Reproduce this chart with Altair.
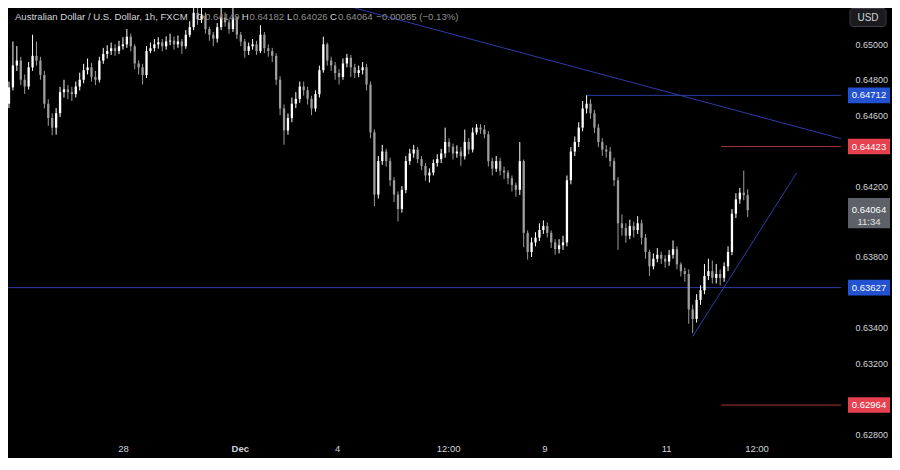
import altair as alt
import pandas as pd
import numpy as np

# ---------------- data (hourly candles) ----------------
opens = [
0.64665, 0.64757, 0.64881, 0.64908, 0.64800, 0.64762, 0.64870, 0.64935, 0.64908, 0.64827,
0.64665, 0.64584, 0.64530, 0.64611, 0.64730, 0.64746, 0.64730, 0.64719, 0.64762, 0.64800,
0.64854, 0.64870, 0.64816, 0.64800, 0.64908, 0.64946, 0.64962, 0.64978, 0.64962, 0.64989,
0.65000, 0.65043, 0.64989, 0.64892, 0.64870, 0.64827, 0.64962, 0.64978, 0.65000, 0.65011,
0.64989, 0.65016, 0.65021, 0.65000, 0.65016, 0.64989, 0.65054, 0.65097, 0.65178, 0.65140,
0.65162, 0.65086, 0.65054, 0.65032, 0.65097, 0.65151, 0.65124, 0.65086, 0.65151, 0.65054,
0.65016, 0.64962, 0.64989, 0.65000, 0.64962, 0.65054, 0.64978, 0.64962, 0.64935, 0.64800,
0.64638, 0.64514, 0.64584, 0.64665, 0.64692, 0.64762, 0.64741, 0.64692, 0.64638, 0.64719,
0.64854, 0.65000, 0.64908, 0.64881, 0.64838, 0.64816, 0.64892, 0.64924, 0.64870, 0.64838,
0.64854, 0.64870, 0.64773, 0.64503, 0.64152, 0.64341, 0.64395, 0.64341, 0.64233, 0.64152,
0.64071, 0.64179, 0.64341, 0.64384, 0.64406, 0.64352, 0.64314, 0.64260, 0.64276, 0.64330,
0.64352, 0.64384, 0.64449, 0.64422, 0.64384, 0.64395, 0.64368, 0.64449, 0.64406, 0.64503,
0.64530, 0.64519, 0.64492, 0.64341, 0.64298, 0.64341, 0.64287, 0.64276, 0.64244, 0.64206,
0.64179, 0.64341, 0.63936, 0.63828, 0.63882, 0.63909, 0.63952, 0.63974, 0.63936, 0.63882,
0.63844, 0.63866, 0.63882, 0.64233, 0.64395, 0.64449, 0.64530, 0.64638, 0.64665, 0.64611,
0.64530, 0.64449, 0.64406, 0.64395, 0.64341, 0.64233, 0.63990, 0.63963, 0.63920, 0.63974,
0.63952, 0.63990, 0.63909, 0.63828, 0.63747, 0.63790, 0.63812, 0.63790, 0.63774, 0.63812,
0.63844, 0.63758, 0.63720, 0.63704, 0.63504, 0.63450, 0.63558, 0.63612, 0.63693, 0.63720,
0.63682, 0.63704, 0.63682, 0.63747, 0.63828, 0.64044, 0.64125, 0.64163, 0.64149,
]

closes = [
0.64757, 0.64881, 0.64908, 0.64800, 0.64762, 0.64870, 0.64935, 0.64908, 0.64827, 0.64665,
0.64584, 0.64530, 0.64611, 0.64730, 0.64746, 0.64730, 0.64719, 0.64762, 0.64800, 0.64854,
0.64870, 0.64816, 0.64800, 0.64908, 0.64946, 0.64962, 0.64978, 0.64962, 0.64989, 0.65000,
0.65043, 0.64989, 0.64892, 0.64870, 0.64827, 0.64962, 0.64978, 0.65000, 0.65011, 0.64989,
0.65016, 0.65021, 0.65000, 0.65016, 0.64989, 0.65054, 0.65097, 0.65178, 0.65140, 0.65162,
0.65086, 0.65054, 0.65032, 0.65097, 0.65151, 0.65124, 0.65086, 0.65151, 0.65054, 0.65016,
0.64962, 0.64989, 0.65000, 0.64962, 0.65054, 0.64978, 0.64962, 0.64935, 0.64800, 0.64638,
0.64514, 0.64584, 0.64665, 0.64692, 0.64762, 0.64741, 0.64692, 0.64638, 0.64719, 0.64854,
0.65000, 0.64908, 0.64881, 0.64838, 0.64816, 0.64892, 0.64924, 0.64870, 0.64838, 0.64854,
0.64870, 0.64773, 0.64503, 0.64152, 0.64341, 0.64395, 0.64341, 0.64233, 0.64152, 0.64071,
0.64179, 0.64341, 0.64384, 0.64406, 0.64352, 0.64314, 0.64260, 0.64276, 0.64330, 0.64352,
0.64384, 0.64449, 0.64422, 0.64384, 0.64395, 0.64368, 0.64449, 0.64406, 0.64503, 0.64530,
0.64519, 0.64492, 0.64341, 0.64298, 0.64341, 0.64287, 0.64276, 0.64244, 0.64206, 0.64179,
0.64341, 0.63936, 0.63828, 0.63882, 0.63909, 0.63952, 0.63974, 0.63936, 0.63882, 0.63844,
0.63866, 0.63882, 0.64233, 0.64395, 0.64449, 0.64530, 0.64638, 0.64665, 0.64611, 0.64530,
0.64449, 0.64406, 0.64395, 0.64341, 0.64233, 0.63990, 0.63963, 0.63920, 0.63974, 0.63952,
0.63990, 0.63909, 0.63828, 0.63747, 0.63790, 0.63812, 0.63790, 0.63774, 0.63812, 0.63844,
0.63758, 0.63720, 0.63704, 0.63504, 0.63450, 0.63558, 0.63612, 0.63693, 0.63720, 0.63682,
0.63704, 0.63682, 0.63747, 0.63828, 0.64044, 0.64125, 0.64163, 0.64149, 0.64064,
]

highs = [
0.64790, 0.65016, 0.64990, 0.64930, 0.64830, 0.64900, 0.65054, 0.65016, 0.64930, 0.64850,
0.64690, 0.64610, 0.64640, 0.64760, 0.64800, 0.64770, 0.64760, 0.64790, 0.64840, 0.64890,
0.64920, 0.64895, 0.64850, 0.64930, 0.64980, 0.64995, 0.65010, 0.65000, 0.65020, 0.65040,
0.65086, 0.65060, 0.65000, 0.64910, 0.64890, 0.64990, 0.65010, 0.65030, 0.65040, 0.65030,
0.65045, 0.65060, 0.65045, 0.65050, 0.65030, 0.65080, 0.65130, 0.65260, 0.65205, 0.65250,
0.65180, 0.65100, 0.65070, 0.65120, 0.65240, 0.65180, 0.65140, 0.65260, 0.65160, 0.65070,
0.65030, 0.65010, 0.65030, 0.65020, 0.65108, 0.65070, 0.65000, 0.64980, 0.64950, 0.64820,
0.64660, 0.64610, 0.64700, 0.64730, 0.64790, 0.64790, 0.64760, 0.64710, 0.64740, 0.64880,
0.65043, 0.65010, 0.64930, 0.64900, 0.64860, 0.64920, 0.64946, 0.64940, 0.64890, 0.64880,
0.64900, 0.64890, 0.64790, 0.64520, 0.64370, 0.64433, 0.64410, 0.64360, 0.64250, 0.64170,
0.64200, 0.64370, 0.64410, 0.64433, 0.64420, 0.64370, 0.64330, 0.64300, 0.64350, 0.64380,
0.64410, 0.64530, 0.64470, 0.64440, 0.64430, 0.64420, 0.64519, 0.64470, 0.64530, 0.64550,
0.64550, 0.64545, 0.64510, 0.64360, 0.64370, 0.64360, 0.64310, 0.64290, 0.64260, 0.64220,
0.64449, 0.64350, 0.63950, 0.63910, 0.63940, 0.63990, 0.64006, 0.63995, 0.63950, 0.63900,
0.63900, 0.63920, 0.64260, 0.64420, 0.64480, 0.64560, 0.64680, 0.64712, 0.64690, 0.64630,
0.64550, 0.64470, 0.64430, 0.64420, 0.64360, 0.64250, 0.64040, 0.63990, 0.64010, 0.64000,
0.64030, 0.64010, 0.63930, 0.63840, 0.63820, 0.63850, 0.63830, 0.63810, 0.63840, 0.63893,
0.63860, 0.63770, 0.63740, 0.63730, 0.63530, 0.63590, 0.63640, 0.63760, 0.63790, 0.63780,
0.63760, 0.63730, 0.63770, 0.63860, 0.64070, 0.64160, 0.64190, 0.64287, 0.64182,
]

lows = [
0.64640, 0.64740, 0.64850, 0.64770, 0.64720, 0.64745, 0.64850, 0.64880, 0.64800, 0.64638,
0.64540, 0.64487, 0.64490, 0.64590, 0.64700, 0.64690, 0.64680, 0.64700, 0.64740, 0.64780,
0.64830, 0.64790, 0.64770, 0.64785, 0.64890, 0.64920, 0.64940, 0.64935, 0.64945, 0.64970,
0.64980, 0.64960, 0.64860, 0.64830, 0.64773, 0.64810, 0.64950, 0.64960, 0.64975, 0.64960,
0.64970, 0.64995, 0.64970, 0.64980, 0.64946, 0.64975, 0.65040, 0.65080, 0.65110, 0.65120,
0.65060, 0.65020, 0.64989, 0.65010, 0.65080, 0.65100, 0.65060, 0.65070, 0.65030, 0.64990,
0.64924, 0.64940, 0.64970, 0.64940, 0.64950, 0.64950, 0.64930, 0.64900, 0.64770, 0.64600,
0.64433, 0.64490, 0.64560, 0.64640, 0.64670, 0.64710, 0.64660, 0.64600, 0.64620, 0.64700,
0.64840, 0.64880, 0.64850, 0.64800, 0.64773, 0.64800, 0.64870, 0.64816, 0.64810, 0.64815,
0.64830, 0.64740, 0.64470, 0.64087, 0.64130, 0.64320, 0.64310, 0.64200, 0.64110, 0.64001,
0.64050, 0.64160, 0.64320, 0.64360, 0.64330, 0.64290, 0.64230, 0.64220, 0.64260, 0.64310,
0.64330, 0.64360, 0.64390, 0.64350, 0.64360, 0.64314, 0.64350, 0.64380, 0.64390, 0.64490,
0.64495, 0.64470, 0.64310, 0.64260, 0.64280, 0.64260, 0.64240, 0.64210, 0.64170, 0.64140,
0.64150, 0.63855, 0.63785, 0.63800, 0.63860, 0.63890, 0.63930, 0.63910, 0.63850, 0.63812,
0.63820, 0.63840, 0.63860, 0.64210, 0.64370, 0.64420, 0.64510, 0.64610, 0.64580, 0.64500,
0.64420, 0.64370, 0.64360, 0.64310, 0.64200, 0.63840, 0.63920, 0.63880, 0.63900, 0.63910,
0.63930, 0.63870, 0.63790, 0.63693, 0.63730, 0.63770, 0.63760, 0.63740, 0.63750, 0.63790,
0.63730, 0.63690, 0.63660, 0.63423, 0.63369, 0.63430, 0.63530, 0.63590, 0.63670, 0.63650,
0.63650, 0.63639, 0.63660, 0.63720, 0.63810, 0.64020, 0.64100, 0.64120, 0.64026,
]

# x-axis tick positions (candle index) and labels
x_tick_pos = [29, 58.75, 83.5, 111.75, 136.25, 167.25, 190.25]
x_tick_lbl = ["28", "Dec", "4", "12:00", "9", "11", "12:00"]
# price-axis labels that are visible (the others sit under the price badges)
y_ticks = [0.628, 0.632, 0.634, 0.638, 0.642, 0.646, 0.648, 0.650]

# horizontal levels
level_price = [0.64712, 0.64423, 0.63627, 0.62964]
level_from = [147, 181.25, -0.25, 181.25]
level_kind = ["blue", "red", "blue", "red"]

# trend lines (start index, start price, end index, end price)
trend_x1 = [88, 174]
trend_p1 = [0.65205, 0.63351]
trend_x2 = [211.75, 200.5]
trend_p2 = [0.64468, 0.64276]

last_price = 0.64064
last_timer = "11:34"

title_txt = "Australian Dollar / U.S. Dollar, 1h, FXCM"
ohlc_parts = ["O", "0.64149", "H", "0.64182", "L", "0.64026", "C", "0.64064", "\u22120.00085 (\u22120.13%)"]

# ---------------- styling ----------------
BLUE_LINE = "#2d3ca6"
RED_LINE = "#a8343a"
BLUE_BADGE = "#2352d0"
RED_BADGE = "#e5414f"
GRAY_BADGE = "#5d6068"
TXT = "#d1d4dc"
FONT = "Liberation Sans"

W, H = 833, 429
X_DOM = [-0.25, 211.75]
Y_DOM = [0.62784, 0.65205]

N = len(closes)
df = pd.DataFrame({"idx": np.arange(N), "open": opens, "high": highs,
                   "low": lows, "close": closes})
df["dir"] = np.where(df["close"] >= df["open"], "up", "down")

xs = alt.Scale(domain=X_DOM, nice=False, zero=False)
ys = alt.Scale(domain=Y_DOM, nice=False, zero=False)

x_expr = " : ".join(f"datum.value == {p} ? '{l}'" for p, l in zip(x_tick_pos, x_tick_lbl)) + " : ''"

x_axis = alt.Axis(values=x_tick_pos, labelExpr=x_expr, title=None, grid=False,
                  ticks=False, domain=False, labelColor=TXT, labelFontSize=9.5,
                  labelPadding=6, labelFlush=False, labelOverlap=False,
                  labelFont=FONT,
                  labelFontWeight={"condition": {"test": "datum.value == 58.75", "value": "bold"},
                                   "value": "normal"})
y_axis = alt.Axis(orient="right", values=y_ticks, format=".5f", title=None, grid=False,
                  ticks=False, domain=False, labelColor=TXT, labelFontSize=9,
                  labelPadding=14, labelFont=FONT, labelAlign="left",
                  labelOverlap=False, labelFlush=False)

cscale = alt.Scale(domain=["up", "down"], range=["#ffffff", "#9c9c9c"])

base = alt.Chart(df)
wicks = base.mark_rule(strokeWidth=1, clip=True).encode(
    x=alt.X("idx:Q", scale=xs, axis=x_axis),
    y=alt.Y("low:Q", scale=ys, axis=y_axis),
    y2="high:Q",
    color=alt.Color("dir:N", scale=cscale, legend=None),
)
bodies = base.mark_rule(strokeWidth=2.3, clip=True).encode(
    x="idx:Q", y="open:Q", y2="close:Q",
    color=alt.Color("dir:N", scale=cscale, legend=None),
)

lv = pd.DataFrame({"x1": level_from, "x2": [X_DOM[1]] * len(level_price),
                   "price": level_price, "kind": level_kind})
levels = alt.Chart(lv).mark_rule(strokeWidth=1, clip=True).encode(
    x="x1:Q", x2="x2:Q", y="price:Q",
    color=alt.Color("kind:N", scale=alt.Scale(domain=["blue", "red"], range=[BLUE_LINE, RED_LINE]), legend=None),
)

tr = pd.DataFrame({"x1": trend_x1, "p1": trend_p1, "x2": trend_x2, "p2": trend_p2})
trends = alt.Chart(tr).mark_rule(strokeWidth=1, clip=True, color=BLUE_LINE).encode(
    x="x1:Q", y="p1:Q", x2="x2:Q", y2="p2:Q")

# price badges on the axis
BADGE_X = 861
badge_shape = "M-1,-0.37L1,-0.37L1,0.37L-1,0.37Z"
bd = pd.DataFrame({"price": level_price,
                   "label": [f"{p:.5f}" for p in level_price],
                   "kind": level_kind})
badges = alt.Chart(bd).mark_point(shape=badge_shape, size=42 * 42, filled=True,
                                  opacity=1, strokeWidth=0).encode(
    x=alt.value(BADGE_X), y="price:Q",
    color=alt.Color("kind:N", scale=alt.Scale(domain=["blue", "red"], range=[BLUE_BADGE, RED_BADGE]), legend=None),
)
badge_txt = alt.Chart(bd).mark_text(fontSize=9.5, color="#ffffff", font=FONT,
                                    align="center", baseline="middle").encode(
    x=alt.value(BADGE_X), y="price:Q", text="label:N")

cur = pd.DataFrame({"price": [last_price], "label": [f"{last_price:.5f}"], "timer": [last_timer]})
cur_badge = alt.Chart(cur).mark_point(shape="M-1,-0.58L1,-0.58L1,0.86L-1,0.86Z", size=42 * 42,
                                      filled=True, opacity=1, strokeWidth=0, color=GRAY_BADGE).encode(
    x=alt.value(BADGE_X), y="price:Q")
cur_txt = alt.Chart(cur).mark_text(fontSize=9.5, color="#ffffff", font=FONT,
                                   align="center", baseline="middle").encode(
    x=alt.value(BADGE_X), y="price:Q", text="label:N")
cur_timer = alt.Chart(cur).mark_text(fontSize=9.5, color="#e0e0e0", font=FONT,
                                     align="center", baseline="middle", dy=12).encode(
    x=alt.value(BADGE_X), y="price:Q", text="timer:N")

one = pd.DataFrame({"a": [0]})
usd_box = alt.Chart(one).mark_rect(fill="#1b1b1d", stroke="#3b3d44", strokeWidth=1,
                                   cornerRadius=3).encode(
    x=alt.value(842), x2=alt.value(878), y=alt.value(0.5), y2=alt.value(18.5))
usd_txt = alt.Chart(pd.DataFrame({"t": ["USD"]})).mark_text(
    fontSize=10, color=TXT, font=FONT, align="center", baseline="middle").encode(
    x=alt.value(860), y=alt.value(9.5), text="t:N")

title_layer = alt.Chart(pd.DataFrame({"t": [title_txt]})).mark_text(
    fontSize=9.6, color=TXT, font=FONT, align="left", baseline="middle").encode(
    x=alt.value(6.9), y=alt.value(8.6), text="t:N")

part_x = [188.6, 197.0, 233.7, 241.5, 278.9, 285.0, 322.1, 330.0, 368.3]
part_col = [TXT, "#8e8e8e", TXT, "#8e8e8e", TXT, "#8e8e8e", TXT, "#8e8e8e", "#8e8e8e"]
ohlc_layers = [
    alt.Chart(pd.DataFrame({"t": [t]})).mark_text(
        fontSize=9.6, color=c, font=FONT, align="left", baseline="middle").encode(
        x=alt.value(px), y=alt.value(8.6), text="t:N")
    for t, px, c in zip(ohlc_parts, part_x, part_col)
]

chart = alt.layer(
    levels, trends, wicks, bodies, badges, badge_txt, cur_badge, cur_txt, cur_timer,
    usd_box, usd_txt, title_layer, *ohlc_layers
).resolve_scale(color="independent").properties(
    width=W, height=H,
    autosize=alt.AutoSizeParams(type="none"),
    padding={"left": 0, "top": 0, "right": 51, "bottom": 21},
    background="#000000",
).configure_view(stroke=None)

chart.save("out.html", embed_options={"renderer": "svg", "actions": False})
